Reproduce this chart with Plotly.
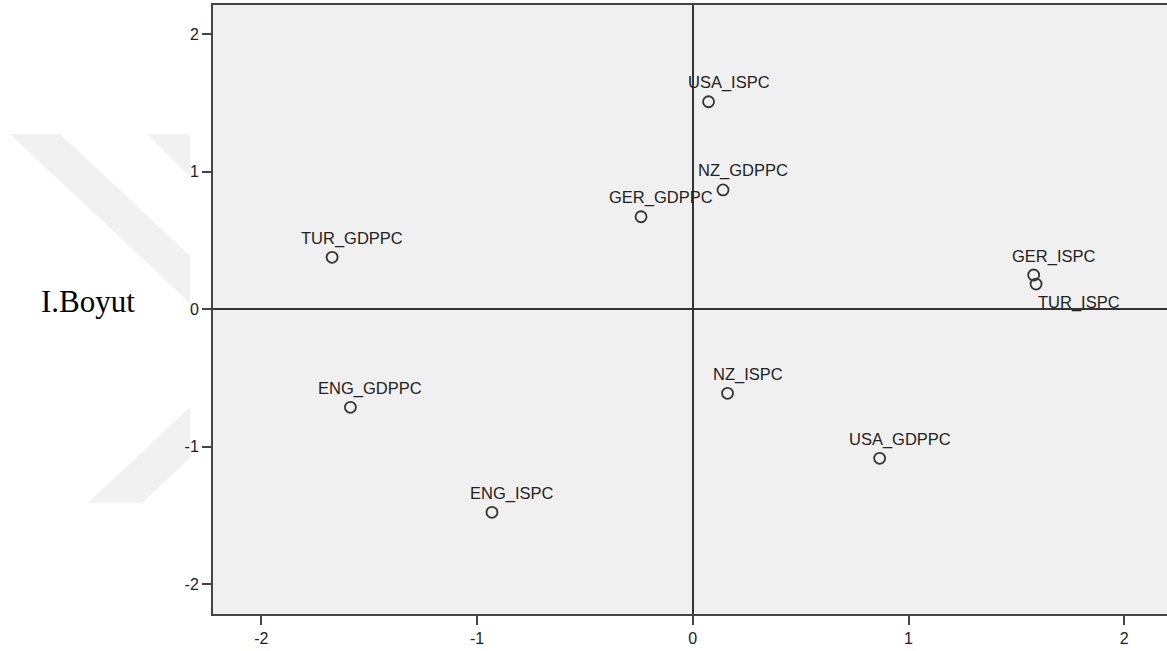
import plotly.graph_objects as go

# Data
labels = ["USA_ISPC", "NZ_GDPPC", "GER_GDPPC", "TUR_GDPPC", "GER_ISPC",
          "TUR_ISPC", "ENG_GDPPC", "NZ_ISPC", "USA_GDPPC", "ENG_ISPC"]
dim1 = [0.073, 0.140, -0.240, -1.672, 1.580, 1.591, -1.587, 0.161, 0.866, -0.931]
dim2 = [1.510, 0.868, 0.673, 0.378, 0.249, 0.183, -0.714, -0.612, -1.085, -1.478]
tick_vals = [-2, -1, 0, 1, 2]
tick_text = ["-2", "-1", "0", "1", "2"]
y_title = "I.Boyut"

# label placement (pixel shifts), style only
label_shift = {"TUR_ISPC": (43, -18)}
default_shift = (20, 19)

W, H = 1167, 651
L, T, B, R = 213, 5, 37, 0

fig = go.Figure()
fig.add_trace(go.Scatter(
    x=dim1, y=dim2, mode="markers",
    marker=dict(symbol="circle-open", size=11, color="#333333",
                line=dict(width=1.8, color="#333333")),
    hoverinfo="text", text=labels, showlegend=False,
))

annotations = []
for lab, xv, yv in zip(labels, dim1, dim2):
    dx, dy = label_shift.get(lab, default_shift)
    annotations.append(dict(
        x=xv, y=yv, xref="x", yref="y", text=lab, showarrow=False,
        xanchor="center", yanchor="middle", xshift=dx, yshift=dy,
        font=dict(family="Liberation Sans, Arial, sans-serif", size=16.5, color="#222222"),
    ))

pw = W - L - R
ph = H - T - B


def P(px, py):
    return (px - L) / pw, (H - B - py) / ph


annotations.append(dict(
    x=P(88, 0)[0], y=P(0, 301)[1], xref="paper", yref="paper", text=y_title,
    showarrow=False, xanchor="center", yanchor="middle",
    font=dict(family="Liberation Serif, Times New Roman, serif", size=31, color="#000000"),
))

# watermark (decorative, outside plot area)
polys = [
    [(10, 134), (60, 134), (190, 256), (190, 303)],
    [(147, 134), (190, 134), (190, 176)],
    [(88, 503), (142, 503), (190, 458), (190, 407)],
]
shapes = []
for poly in polys:
    pts = [P(a, b) for a, b in poly]
    path = "M " + " L ".join(f"{u:.5f},{v:.5f}" for u, v in pts) + " Z"
    shapes.append(dict(type="path", path=path, xref="paper", yref="paper",
                       fillcolor="#F1F1F1", line=dict(width=0), layer="below"))

axis_common = dict(
    showgrid=False, zeroline=True, zerolinecolor="#333333", zerolinewidth=2,
    showline=True, linecolor="#444444", linewidth=2,
    ticks="outside", ticklen=9, tickwidth=2, tickcolor="#444444",
    tickvals=tick_vals, ticktext=tick_text,
    tickfont=dict(family="Liberation Sans, Arial, sans-serif", size=16, color="#222222"),
)

fig.update_layout(
    width=W, height=H,
    margin=dict(l=L, r=R, t=T, b=B, pad=0),
    paper_bgcolor="white", plot_bgcolor="#F0F0F0",
    xaxis=dict(range=[-2.224, 2.198], mirror=True, **axis_common),
    yaxis=dict(range=[-2.218, 2.214], mirror=False, **axis_common),
    annotations=annotations, shapes=shapes,
)

fig.write_html("out.html",
               config={"displayModeBar": False},
               post_script="document.body.style.margin='0px';document.body.style.overflow='hidden';")
